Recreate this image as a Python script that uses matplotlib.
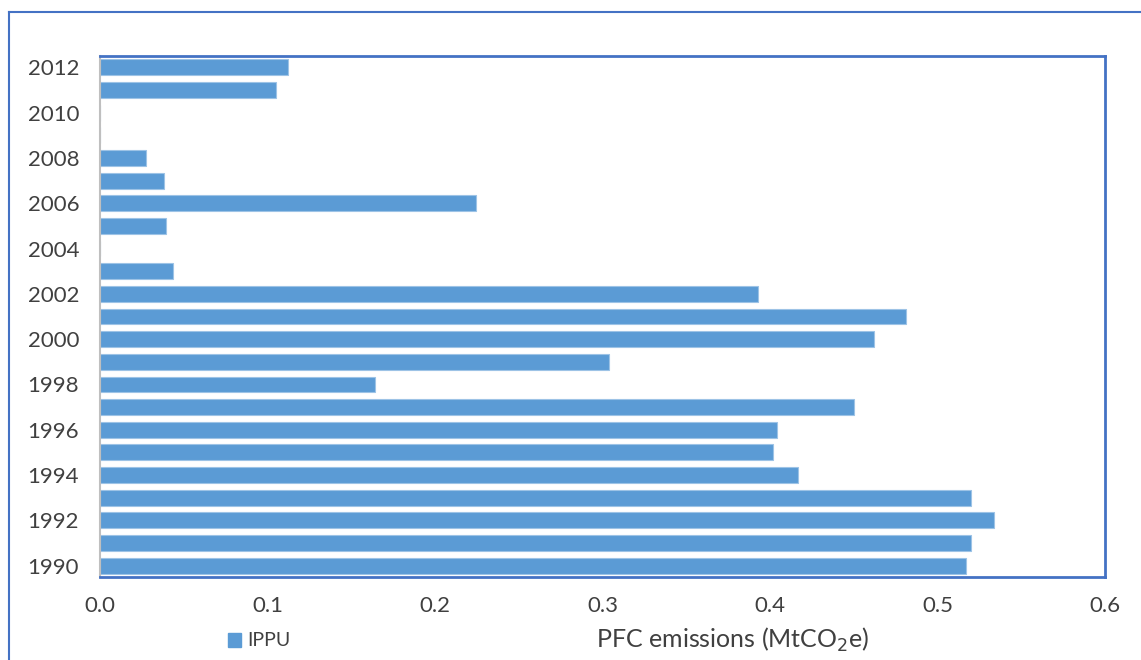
import matplotlib.pyplot as plt
from matplotlib.lines import Line2D
from matplotlib.patches import Patch

plt.rcParams['font.family'] = ['Lato', 'DejaVu Sans']

years = list(range(1990, 2013))
ippu = [0.517, 0.520, 0.534, 0.520, 0.417, 0.402, 0.404, 0.450, 0.164, 0.304,
        0.462, 0.481, 0.393, 0.0435, 0.0, 0.0395, 0.2245, 0.038, 0.0275, 0.0,
        0.0, 0.105, 0.1125]
tick_years = [1990, 1992, 1994, 1996, 1998, 2000, 2002, 2004, 2006, 2008, 2010, 2012]
x_ticks = [0.0, 0.1, 0.2, 0.3, 0.4, 0.5, 0.6]

fig = plt.figure(figsize=(11.41, 6.6), dpi=100)
W, H = 1141, 660
ax = fig.add_axes([100 / W, 1 - 577 / H, 1005 / W, 521 / H])

ax.barh(years, ippu, height=0.7, color='#5B9BD5', edgecolor='#9DC3E6', linewidth=0.8)

ax.set_xlim(0, 0.6)
ax.set_ylim(1989.5, 2012.5)
ax.set_xticks(x_ticks)
ax.set_xticklabels(['%.1f' % v for v in x_ticks])
ax.set_yticks(tick_years)
ax.tick_params(axis='both', length=0, labelsize=16, labelcolor='#404040')
ax.tick_params(axis='x', pad=14)
ax.tick_params(axis='y', pad=15)

for s in ['top', 'right', 'bottom']:
    ax.spines[s].set_color('#4472C4')
    ax.spines[s].set_linewidth(2)
ax.spines['left'].set_color('#BFBFBF')
ax.spines['left'].set_linewidth(1.5)

# outer frame (left + top)
fig.add_artist(Line2D([9 / W, 9 / W], [0, 1 - 12 / H], color='#4472C4', lw=1.5))
fig.add_artist(Line2D([9 / W, 1], [1 - 12 / H, 1 - 12 / H], color='#4472C4', lw=1.5))

fig.text(733 / W, 1 - 640 / H, 'PFC emissions (MtCO$_2$e)', ha='center', va='center',
         fontsize=18, color='#404040')
fig.legend(handles=[Patch(color='#5B9BD5', label='IPPU')], loc='center left',
           bbox_to_anchor=(210 / W, 1 - 641 / H), frameon=False, fontsize=14,
           handlelength=0.7, handleheight=0.7, handletextpad=0.3, labelcolor='#404040')

fig.savefig('out.png', dpi=100)
